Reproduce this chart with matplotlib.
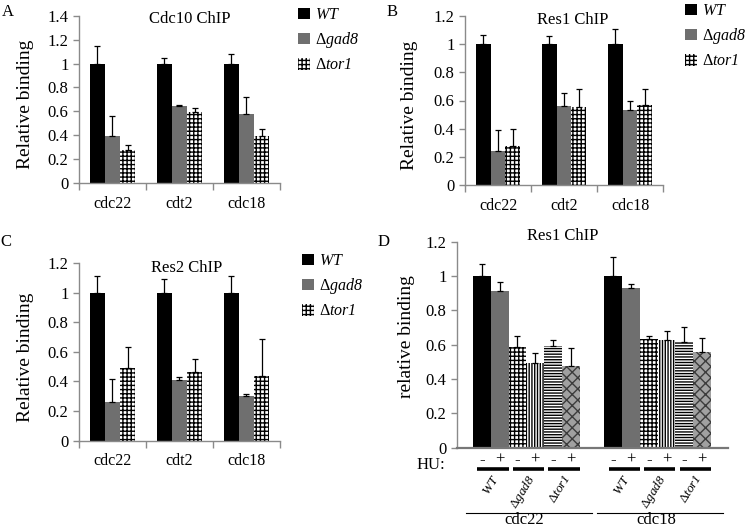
import matplotlib
matplotlib.use("Agg")
import matplotlib.pyplot as plt
import matplotlib.transforms as mtransforms
from matplotlib.ticker import FuncFormatter
import numpy as np

plt.rcParams['font.family'] = ['Liberation Serif', 'DejaVu Serif']
plt.rcParams['mathtext.fontset'] = 'custom'
plt.rcParams['mathtext.rm'] = 'Liberation Serif'
plt.rcParams['mathtext.it'] = 'Liberation Serif:italic'
plt.rcParams['mathtext.bf'] = 'Liberation Serif:italic'
plt.rcParams['hatch.linewidth'] = 1.0

# ---------------- data ----------------
genes = ["cdc22", "cdt2", "cdc18"]
strain_labels = [r"$\mathbf{WT}$", r"$\Delta\mathbf{gad8}$", r"$\Delta\mathbf{tor1}$"]

# Panel A: Cdc10 ChIP
a_wt = [1.0, 1.0, 1.0]
a_wt_err = [0.15, 0.045, 0.08]
a_gad8 = [0.39, 0.645, 0.575]
a_gad8_err = [0.17, 0.01, 0.145]
a_tor1 = [0.275, 0.59, 0.395]
a_tor1_err = [0.045, 0.04, 0.06]

# Panel B: Res1 ChIP
b_wt = [1.0, 1.0, 1.0]
b_wt_err = [0.065, 0.055, 0.11]
b_gad8 = [0.24, 0.56, 0.535]
b_gad8_err = [0.15, 0.09, 0.065]
b_tor1 = [0.275, 0.555, 0.565]
b_tor1_err = [0.125, 0.13, 0.12]

# Panel C: Res2 ChIP
c_wt = [1.0, 1.0, 1.0]
c_wt_err = [0.115, 0.095, 0.11]
c_gad8 = [0.26, 0.41, 0.305]
c_gad8_err = [0.16, 0.02, 0.01]
c_tor1 = [0.49, 0.465, 0.435]
c_tor1_err = [0.145, 0.09, 0.25]

# Panel D: Res1 ChIP, -/+ HU
d_groups = ["cdc22", "cdc18"]
d_strains = [r"$\mathbf{WT}$", r"$\Delta\mathbf{gad8}$", r"$\Delta\mathbf{tor1}$"]
d_hu = ["-", "+"]
d_cdc22 = [1.0, 0.91, 0.585, 0.495, 0.595, 0.475]
d_cdc22_err = [0.07, 0.055, 0.065, 0.055, 0.03, 0.105]
d_cdc18 = [1.0, 0.93, 0.635, 0.625, 0.615, 0.56]
d_cdc18_err = [0.11, 0.025, 0.015, 0.055, 0.09, 0.08]

# ---------------- layout ----------------
W, H = 745, 528
fig = plt.figure(figsize=(W / 100, H / 100), dpi=100)

def rect(l, t, r, b):
    return [l / W, 1 - b / H, (r - l) / W, (b - t) / H]

def fx(x):
    return x / W

def fy(y):
    return 1 - y / H

GRAY = '#6f6f6f'
AXC = '#8a8a8a'
fmt = FuncFormatter(lambda v, p: f"{v:g}")

def style_axes(ax, ymax, step):
    for s in ['top', 'right']:
        ax.spines[s].set_visible(False)
    for s in ['left', 'bottom']:
        ax.spines[s].set_color(AXC)
        ax.spines[s].set_linewidth(1.0)
    ax.set_ylim(0, ymax)
    ax.set_yticks(np.arange(0, ymax + 1e-9, step))
    ax.yaxis.set_major_formatter(fmt)
    ax.tick_params(axis='y', colors=AXC, labelcolor='black', labelsize=12, length=4, width=1)

def panel_abc(rc, ymax, wt, wte, g8, g8e, t1, t1e, title, title_xy, leg_xy, ylab_x):
    ax = fig.add_axes(rc)
    x = np.arange(len(genes))
    w = 0.225
    zero = [0, 0, 0]
    ek = dict(ecolor='black', elinewidth=0.9, capsize=2.3, capthick=0.9)
    b1 = ax.bar(x - w, wt, w, color='black', yerr=[zero, wte], error_kw=ek, label=strain_labels[0])
    b2 = ax.bar(x, g8, w, color=GRAY, yerr=[zero, g8e], error_kw=ek, label=strain_labels[1])
    b3 = ax.bar(x + w, t1, w, color='white', edgecolor='black', linewidth=0, hatch='++++',
                yerr=[zero, t1e], error_kw=ek, label=strain_labels[2])
    ax.set_xlim(-0.5, 2.5)
    style_axes(ax, ymax, 0.2)
    ax.set_xticks([-0.5, 0.5, 1.5, 2.5])
    ax.set_xticklabels([])
    ax.set_xticks(x, minor=True)
    ax.set_xticklabels(genes, minor=True, fontsize=11.5)
    ax.tick_params(axis='x', which='major', colors=AXC, length=5, width=1)
    ax.tick_params(axis='x', which='minor', length=0, pad=9)
    ax.set_ylabel("Relative binding", fontsize=14)
    ax.yaxis.set_label_coords(ylab_x, 0.47)
    fig.text(fx(title_xy[0]), fy(title_xy[1]), title, fontsize=12, ha='center', va='center')
    ax.legend(handles=[b1, b2, b3], loc='upper left', bbox_to_anchor=(fx(leg_xy[0]), fy(leg_xy[1])),
              bbox_transform=fig.transFigure, frameon=False, fontsize=11.5, borderpad=0,
              handlelength=0.75, handleheight=0.75, handletextpad=0.3, labelspacing=0.45,
              borderaxespad=0)
    return ax

axA = panel_abc(rect(79, 15.7, 280, 183), 1.4, a_wt, a_wt_err, a_gad8, a_gad8_err, a_tor1, a_tor1_err,
                "Cdc10 ChIP", (190, 19), (298, 7), -0.225)
axB = panel_abc(rect(465, 16, 663, 185), 1.2, b_wt, b_wt_err, b_gad8, b_gad8_err, b_tor1, b_tor1_err,
                "Res1 ChIP", (573, 20), (685, 3), -0.235)
axC = panel_abc(rect(79, 263, 280, 440.7), 1.2, c_wt, c_wt_err, c_gad8, c_gad8_err, c_tor1, c_tor1_err,
                "Res2 ChIP", (187, 268), (302, 253), -0.225)

# ---------------- panel D ----------------
axD = fig.add_axes(rect(457, 241.7, 728, 447.7))
pos22 = np.arange(6)
pos18 = np.arange(6) + 7.4
d_colors = ['black', GRAY, 'white', 'white', 'white', '#a0a0a0']
d_hatch = [None, None, '++++', '||||||', '------', 'xxx']
d_edge = ['black', GRAY, 'black', 'black', 'black', '#3c3c3c']
ek = dict(ecolor='black', elinewidth=0.9, capsize=2.3, capthick=0.9)
for pos, vals, errs in [(pos22, d_cdc22, d_cdc22_err), (pos18, d_cdc18, d_cdc18_err)]:
    for i in range(6):
        axD.bar(pos[i], vals[i], 1.0, color=d_colors[i], edgecolor=d_edge[i], linewidth=0,
                hatch=d_hatch[i], yerr=[[0], [errs[i]]], error_kw=ek)
axD.set_xlim(-1.40, 13.86)
style_axes(axD, 1.2, 0.2)
axD.spines['bottom'].set_color('#777777')
axD.spines['bottom'].set_linewidth(1.6)
axD.set_xticks([])
axD.set_ylabel("relative binding", fontsize=14)
axD.yaxis.set_label_coords(-0.155, 0.54)
fig.text(fx(563), fy(236), "Res1 ChIP", fontsize=12, ha='center', va='center')

# HU annotation below panel D
tr = mtransforms.blended_transform_factory(axD.transData, axD.transAxes)
def ay(ypix):
    return (447.7 - ypix) / 206.0

axD.text(-2.08, ay(465), "HU:", transform=tr, ha='right', va='center', fontsize=12)
for pos in (pos22, pos18):
    for k in range(3):
        p = pos[2 * k]
        axD.text(p, ay(460), d_hu[0], transform=tr, ha='center', va='center', fontsize=12)
        axD.text(p + 1, ay(460), d_hu[1], transform=tr, ha='center', va='center', fontsize=12)
        axD.plot([p - 0.25, p + 1.5], [ay(469), ay(469)], transform=tr, color='black', lw=2.6,
                 clip_on=False, solid_capstyle='butt')
        axD.text(p + 0.85, ay(476), d_strains[k], transform=tr, ha='right', va='center',
                 fontsize=9.5, rotation=58, rotation_mode='anchor')
for pos, name in zip((pos22, pos18), d_groups):
    axD.plot([pos[0] - 0.9, pos[-1] + 1.2], [ay(513), ay(513)], transform=tr, color='black', lw=0.8,
             clip_on=False)
    axD.text((pos[0] + pos[-1]) / 2 - 0.1, ay(520), name, transform=tr, ha='center', va='center',
             fontsize=12)

# panel letters
fig.text(fx(8), fy(12), "A", fontsize=12, ha='center', va='center')
fig.text(fx(392), fy(12), "B", fontsize=12, ha='center', va='center')
fig.text(fx(6), fy(242), "C", fontsize=12, ha='center', va='center')
fig.text(fx(384), fy(242), "D", fontsize=12, ha='center', va='center')

fig.savefig("out.png", dpi=100)
